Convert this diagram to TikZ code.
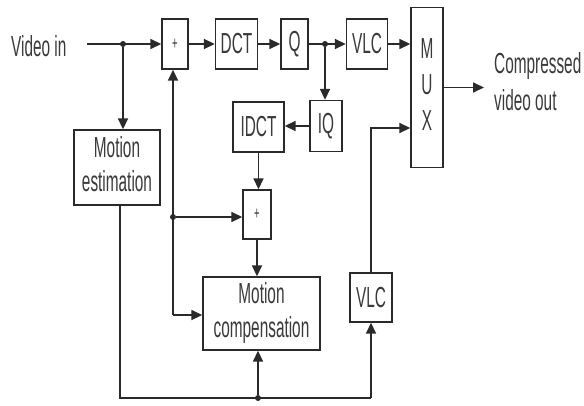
\documentclass[tikz,border=0pt]{standalone}
\usepackage{fontspec}
\setmainfont{Liberation Sans}
\usetikzlibrary{arrows.meta,calc}
\definecolor{ink}{HTML}{2A2A2A}
\definecolor{txtc}{HTML}{3A3A3A}
\newcommand{\sq}[1]{\scalebox{0.53}[1]{#1}}
\newcommand{\two}[2]{\sq{\begin{tabular}{@{}c@{}}#1\\#2\end{tabular}}}
\begin{document}
\begin{tikzpicture}[x=1pt,y=-1pt,
  blk/.style={draw=ink,line width=1.4pt,fill=white,inner sep=0pt,text=txtc,
    font=\fontsize{29}{34}\selectfont},
  txt/.style={inner sep=0pt,text=txtc,font=\fontsize{29}{34}\selectfont},
  ln/.style={draw=ink,line width=1.7pt},
  arr/.style={ln,-{Triangle[length=11pt,width=10pt]}},
  jdot/.style={circle,fill=ink,inner sep=0pt,minimum size=6pt}]
\useasboundingbox (0,0) rectangle (584,405);
% blocks
\node[blk,minimum width=26pt,minimum height=50pt] (p1) at (175,44) {\sq{\fontsize{18}{18}\selectfont +}};
\node[blk,minimum width=42pt,minimum height=50pt] (dct) at (236.5,44) {\sq{DCT}};
\node[blk,minimum width=27pt,minimum height=50pt] (q) at (294.5,44) {\sq{Q}};
\node[blk,minimum width=41pt,minimum height=50pt] (vlc1) at (367,44) {\sq{VLC}};
\node[blk,minimum width=32pt,minimum height=160pt] (mux) at (427,87.5)
  {\sq{\begin{tabular}{@{}c@{}}M\\[2pt]U\\[2pt]X\end{tabular}}};
\node[blk,minimum width=32pt,minimum height=51pt] (iq) at (326,126) {\sq{IQ}};
\node[blk,minimum width=51pt,minimum height=50pt] (idct) at (258.5,127) {\sq{IDCT}};
\node[blk,minimum width=86pt,minimum height=75pt] (me) at (117,167.5) {\two{Motion}{estimation}};
\node[blk,minimum width=28pt,minimum height=49pt] (p2) at (257,214.5) {\sq{\fontsize{18}{18}\selectfont +}};
\node[blk,minimum width=117pt,minimum height=73pt] (mc) at (261.5,313.5) {\two{Motion}{compensation}};
\node[blk,minimum width=42pt,minimum height=49pt] (vlc2) at (371,297.5) {\sq{VLC}};
% texts
\node[txt,anchor=west] (vin) at (11,46) {\sq{Video in}};
\node[txt,anchor=west] (vout) at (494,85)
  {\sq{\begin{tabular}{@{}l@{}}Compressed\\[3pt]video out\end{tabular}}};
% junctions and coordinates
\coordinate (src) at (87,44);
\node[jdot] (j1) at (123,44) {};
\node[jdot] (j2) at (325,44) {};
\node[jdot] (j3) at (173,217) {};
\node[jdot] (j4) at (258,398) {};
\coordinate (fb) at (173,315);
\coordinate (bl) at (120,398);
\coordinate (br) at (371,398);
\coordinate (oend) at (484,87.5);
% connectors
\draw[arr] (src) -- (p1.west);
\draw[arr] (j1) -- (j1 |- me.north);
\draw[arr] (p1.east) -- (dct.west);
\draw[arr] (dct.east) -- (q.west);
\draw[arr] (q.east) -- (vlc1.west);
\draw[arr] (j2) -- (j2 |- iq.north);
\draw[arr] (vlc1.east) -- (vlc1.east -| mux.west);
\draw[arr] (iq.west) -- (iq.west -| idct.east);
\draw[arr] (idct.south) -- (idct.south |- p2.north);
\draw[arr] (fb) -- (fb |- p1.south);
\draw[arr] (fb) -- (fb -| mc.west);
\draw[arr] (j3) -- (j3 -| p2.west);
\draw[arr] (p2.south) -- (p2.south |- mc.north);
\draw[ln] (bl |- me.south) -- (bl) -- (br);
\draw[arr] (br) -- (vlc2.south);
\draw[arr] (j4) -- (j4 |- mc.south);
\draw[arr] (vlc2.north) |- ([yshift=-40.5pt]mux.west);
\draw[arr] (mux.east) -- (oend);
\end{tikzpicture}
\end{document}
